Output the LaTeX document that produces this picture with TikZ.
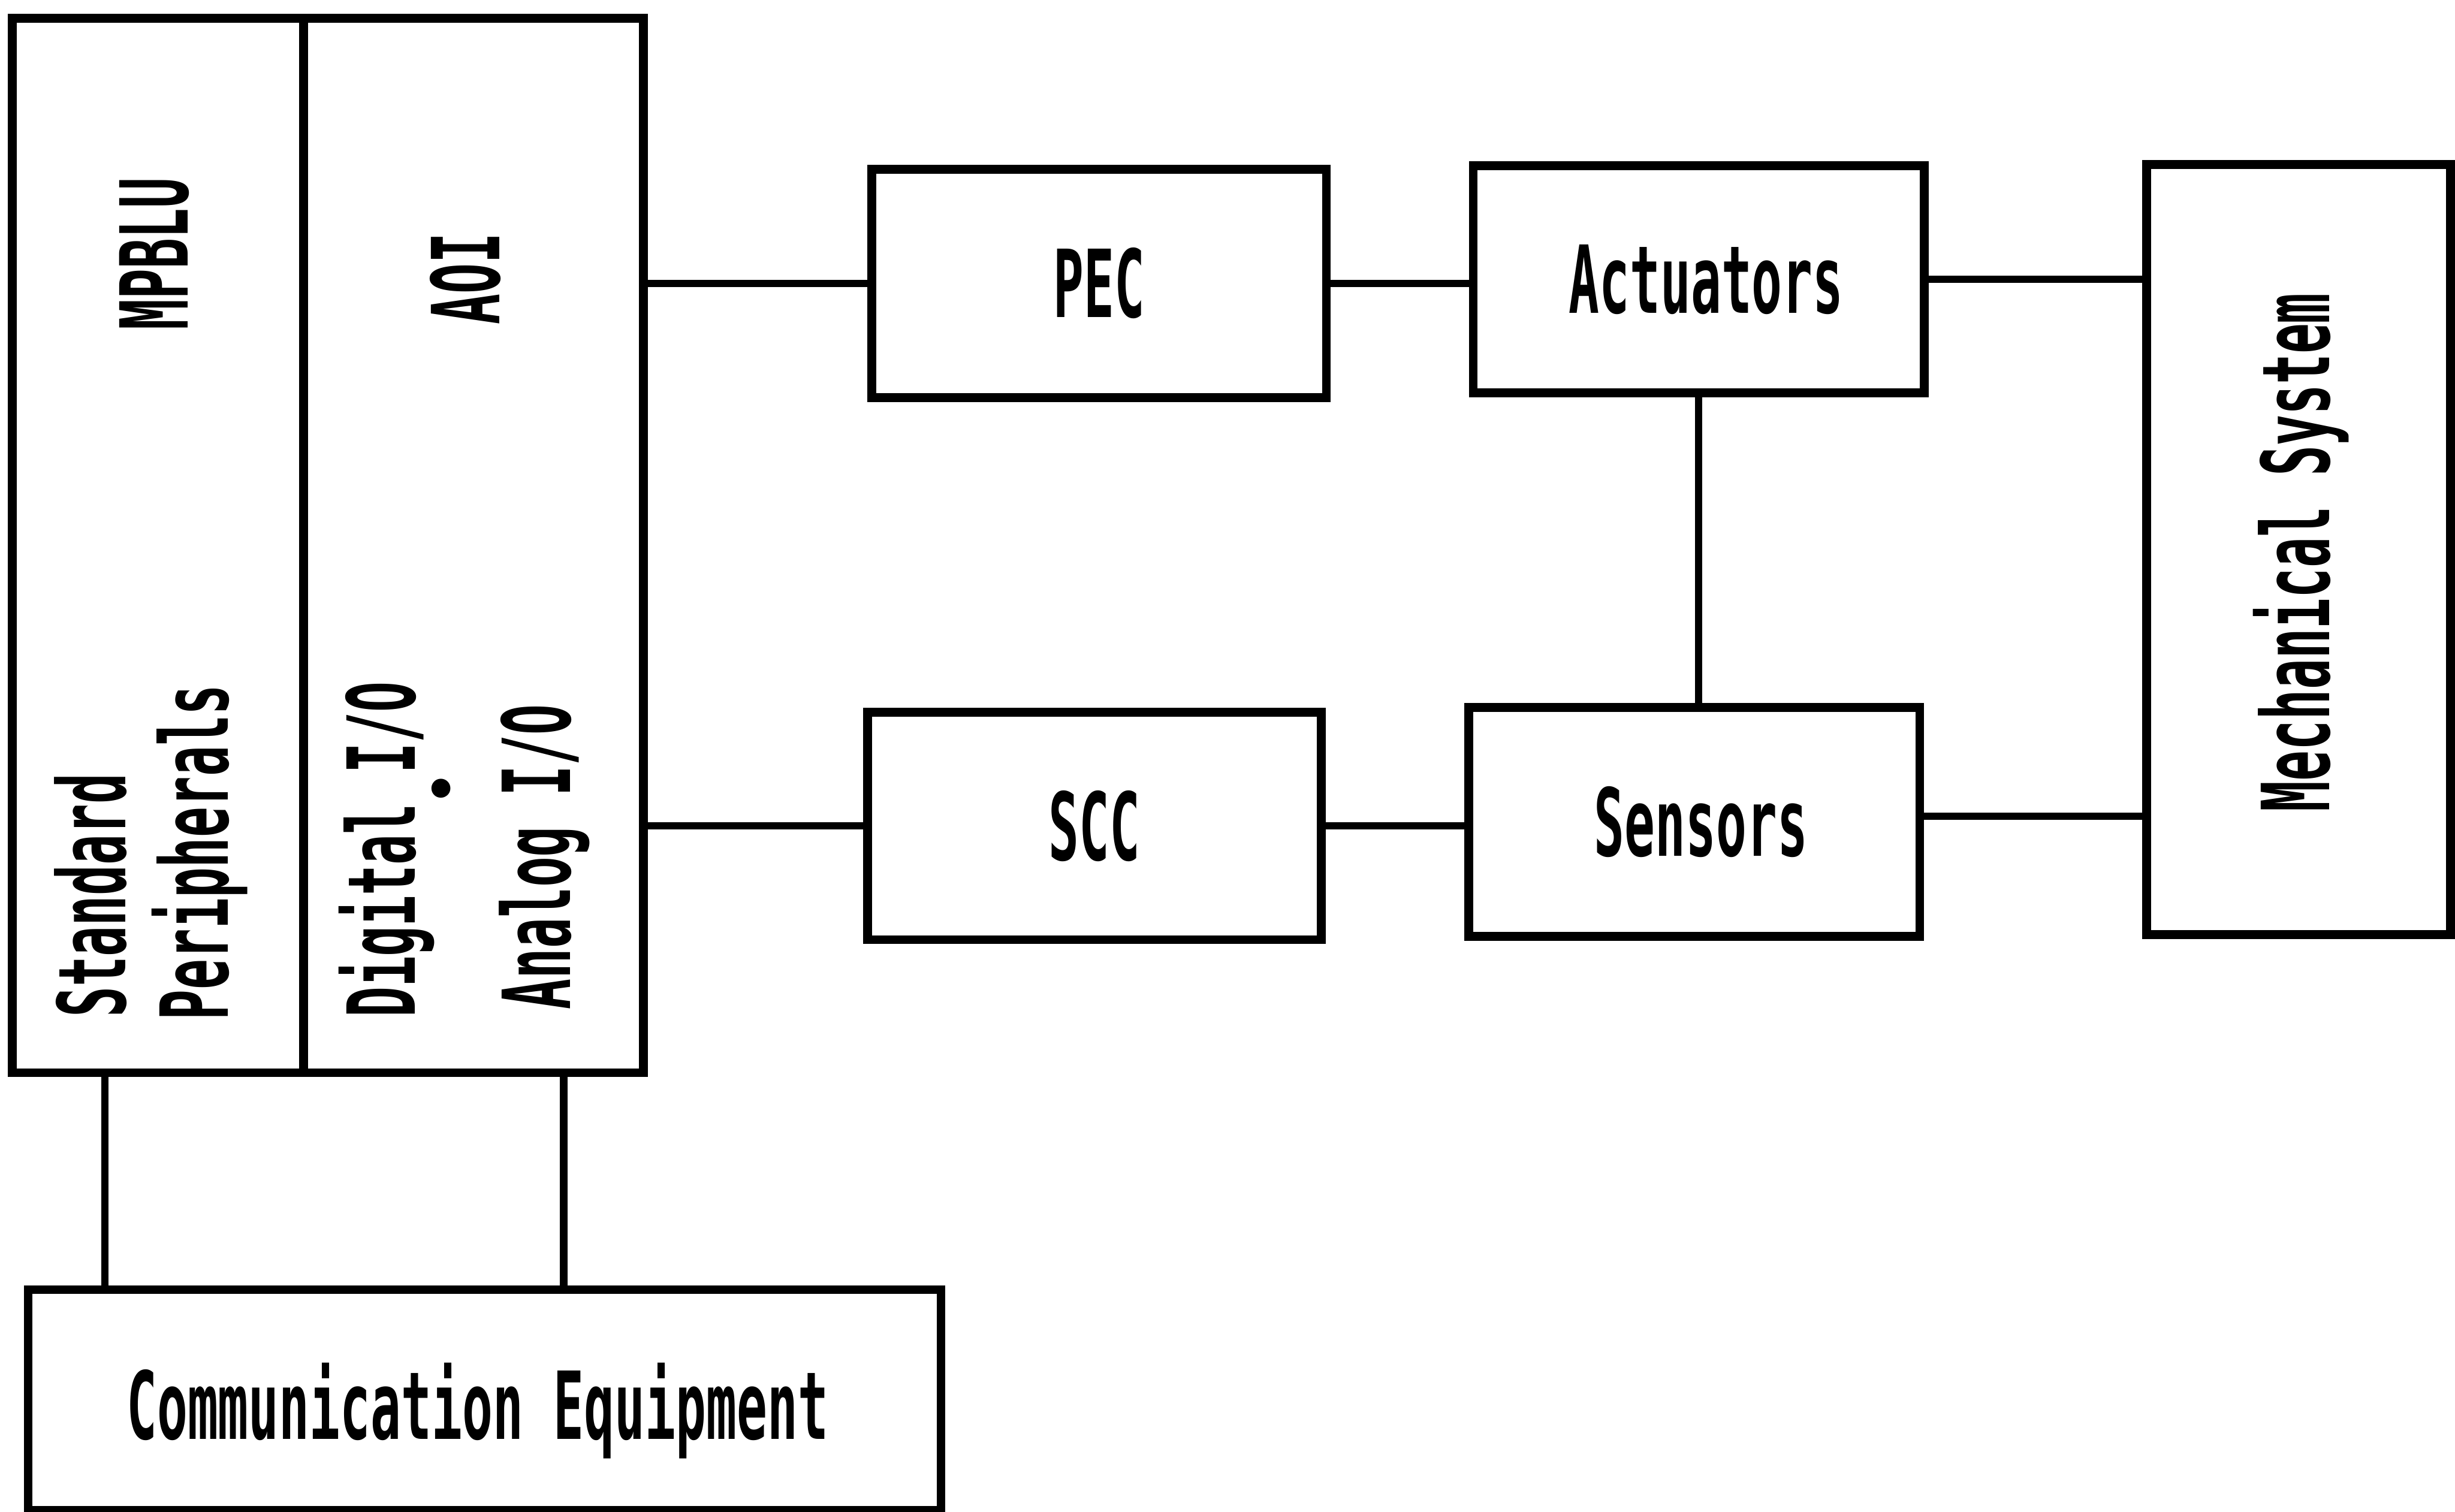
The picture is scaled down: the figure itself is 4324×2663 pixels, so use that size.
\documentclass[tikz,border=0pt]{standalone}
\usepackage{fontspec}
\newfontfamily\plotfont{DejaVu Sans Mono}[FakeStretch=0.54]
\newfontfamily\dotfont{DejaVu Sans}
\begin{document}
\begin{tikzpicture}[x=0.01cm,y=-0.01cm,
  lblfont/.style={font=\plotfont\bfseries\fontsize{47}{56}\selectfont},
  boxst/.style={draw, line width=4.4pt, inner sep=0pt, outer sep=0pt, lblfont},
  wire/.style={line width=3.7pt},
  lbl/.style={inner sep=0pt, lblfont},
  rotlbl/.style={rotate=90, inner sep=0pt, lblfont}]
\useasboundingbox (0,0) rectangle (4324,2663);
% left composite block
\node[boxst, minimum width=5.13cm, minimum height=18.56cm] (bigL) at (278.5,961) {};
\node[boxst, minimum width=5.98cm, minimum height=18.56cm] (bigR) at (834,961) {};
\node[rotlbl, anchor=base] (mpblu) at (331,447) {MPBLU};
\node[rotlbl, anchor=base] (aoi) at (880,491) {AOI};
\node[rotlbl, anchor=base west] (std) at (221,1793) {Standard};
\node[rotlbl, anchor=base west] (per) at (402,1798) {Peripherals};
\node[rotlbl, anchor=base west] (dig) at (731,1793) {Digital\makebox[0.325em]{\dotfont\fontsize{27}{27}\selectfont\raisebox{-23pt}{•}}I/O};
\node[rotlbl, anchor=base west] (ana) at (1004,1779) {Analog I/O};
% communication equipment
\node[boxst, minimum width=16.07cm, minimum height=3.88cm] (comm) at (853.5,2466) {};
\node[lbl, anchor=base] (comml) at (841,2535) {Communication Equipment};
% middle boxes
\node[boxst, minimum width=8.00cm, minimum height=4.02cm] (pec) at (1936,499) {PEC};
\node[boxst, minimum width=7.94cm, minimum height=4.00cm] (act) at (2992,492) {};
\node[lbl] (actl) at (3005,492) {Actuators};
\node[boxst, minimum width=7.99cm, minimum height=4.00cm] (scc) at (1927.5,1455) {SCC};
\node[boxst, minimum width=7.94cm, minimum height=4.03cm] (sens) at (2984,1447.5) {};
\node[lbl] (sensl) at (2996,1447.5) {Sensors};
% mechanical system
\node[boxst, minimum width=5.35cm, minimum height=13.56cm] (mech) at (4048.5,968) {};
\node[rotlbl, anchor=base] (mechl) at (4103,973) {Mechanical System};
% connectors
\coordinate (se) at ([yshift=0.1cm]sens.east);
\draw[wire] (bigR.east |- pec.west) -- (pec.west);
\draw[wire] (pec.east) -- (act.west |- pec.east);
\draw[wire] (act.east) -- (mech.west |- act.east);
\draw[wire] (bigR.east |- scc.west) -- (scc.west);
\draw[wire] (scc.east) -- (sens.west |- scc.east);
\draw[wire] (se) -- (mech.west |- se);
\draw[wire] (act.south) -- (sens.north -| act.south);
\coordinate (ca) at (185,1889);
\coordinate (cb) at (993,1889);
\draw[wire] (ca) -- (ca |- comm.north);
\draw[wire] (cb) -- (cb |- comm.north);
\end{tikzpicture}
\end{document}
